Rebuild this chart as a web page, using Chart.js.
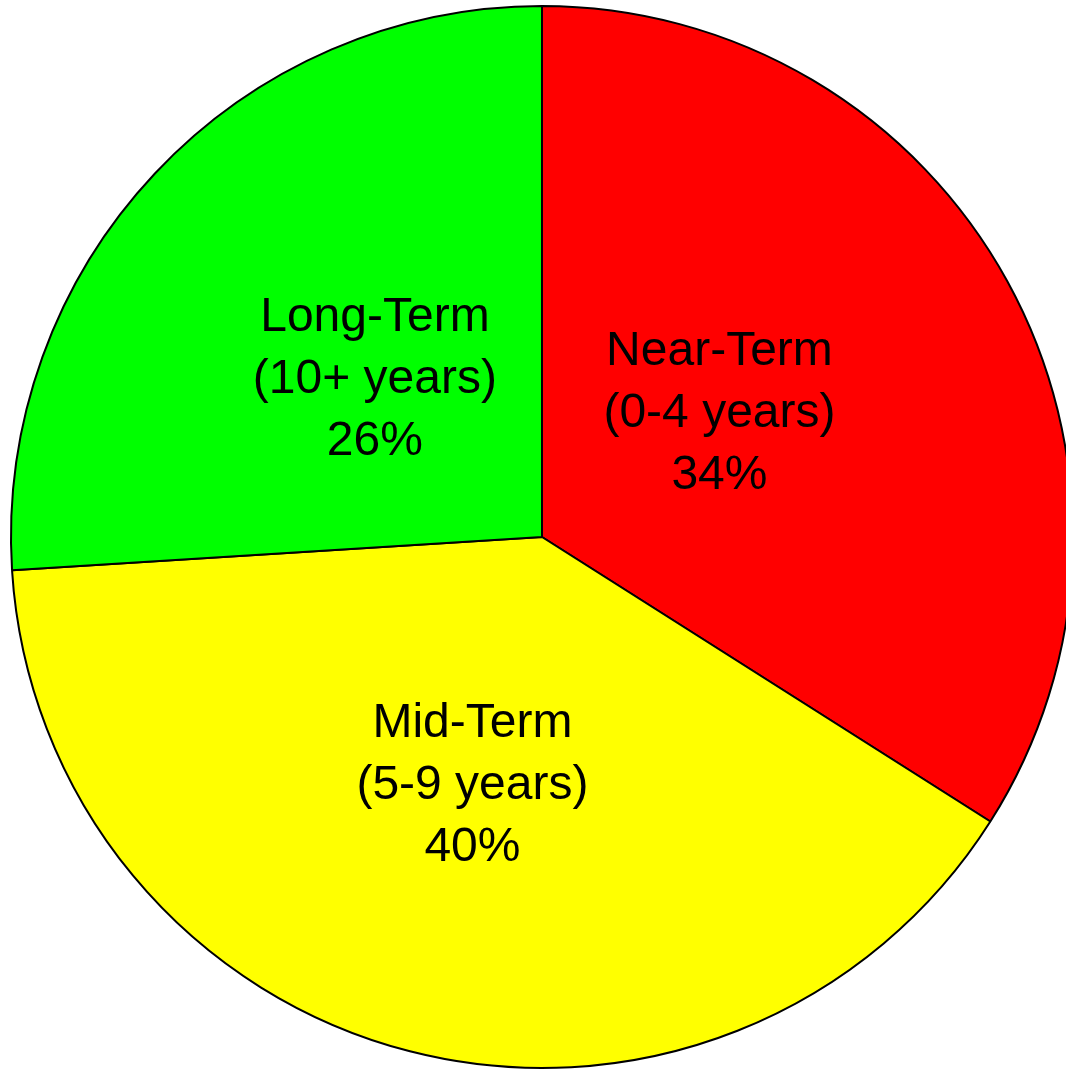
<!DOCTYPE html>
<html>
<head>
<meta charset="utf-8">
<script src="https://cdn.jsdelivr.net/npm/chart.js@4.4.1/dist/chart.umd.min.js"></script>
<style>
  html, body { margin: 0; padding: 0; background: #ffffff; overflow: hidden; }
  #wrap { position: absolute; left: 0; top: 0; }
</style>
</head>
<body>
<div id="wrap"><canvas id="chart" width="1084" height="1074"></canvas></div>
<script>
const categories = ["Near-Term", "Mid-Term", "Long-Term"];
const horizons = ["(0-4 years)", "(5-9 years)", "(10+ years)"];
const shares = [34, 40, 26];
const sliceColors = ["#ff0000", "#ffff00", "#00ff00"];

// label placement: [fraction of radius, angle shift in degrees]
const labelPlacement = [[0.41, -6.6], [0.481, 1.4], [0.436, 0.6]];

const sliceLabels = {
  id: "sliceLabels",
  afterDatasetsDraw(chart) {
    const ctx = chart.ctx;
    const arcs = chart.getDatasetMeta(0).data;
    ctx.save();
    ctx.fillStyle = "#000000";
    ctx.font = "48px 'Liberation Sans', Arial, sans-serif";
    ctx.textAlign = "center";
    ctx.textBaseline = "middle";
    arcs.forEach((arc, i) => {
      const p = arc.getProps(["x", "y", "startAngle", "endAngle", "outerRadius"], true);
      const mid = (p.startAngle + p.endAngle) / 2 + labelPlacement[i][1] * Math.PI / 180;
      const r = p.outerRadius * labelPlacement[i][0];
      const x = p.x + Math.cos(mid) * r;
      const y = p.y + Math.sin(mid) * r + 3;
      const lines = [categories[i], horizons[i], shares[i] + "%"];
      lines.forEach((t, j) => ctx.fillText(t, x, y + (j - 1) * 62));
    });
    ctx.restore();
  },
};

new Chart(document.getElementById("chart"), {
  type: "pie",
  data: {
    labels: categories,
    datasets: [{
      data: shares,
      backgroundColor: sliceColors,
      borderColor: "#000000",
      borderWidth: 2,
      borderAlign: "center",
    }],
  },
  options: {
    responsive: false,
    animation: false,
    layout: { padding: 5 },
    plugins: {
      legend: { display: false },
      tooltip: { enabled: false },
    },
  },
  plugins: [sliceLabels],
});
</script>
</body>
</html>
